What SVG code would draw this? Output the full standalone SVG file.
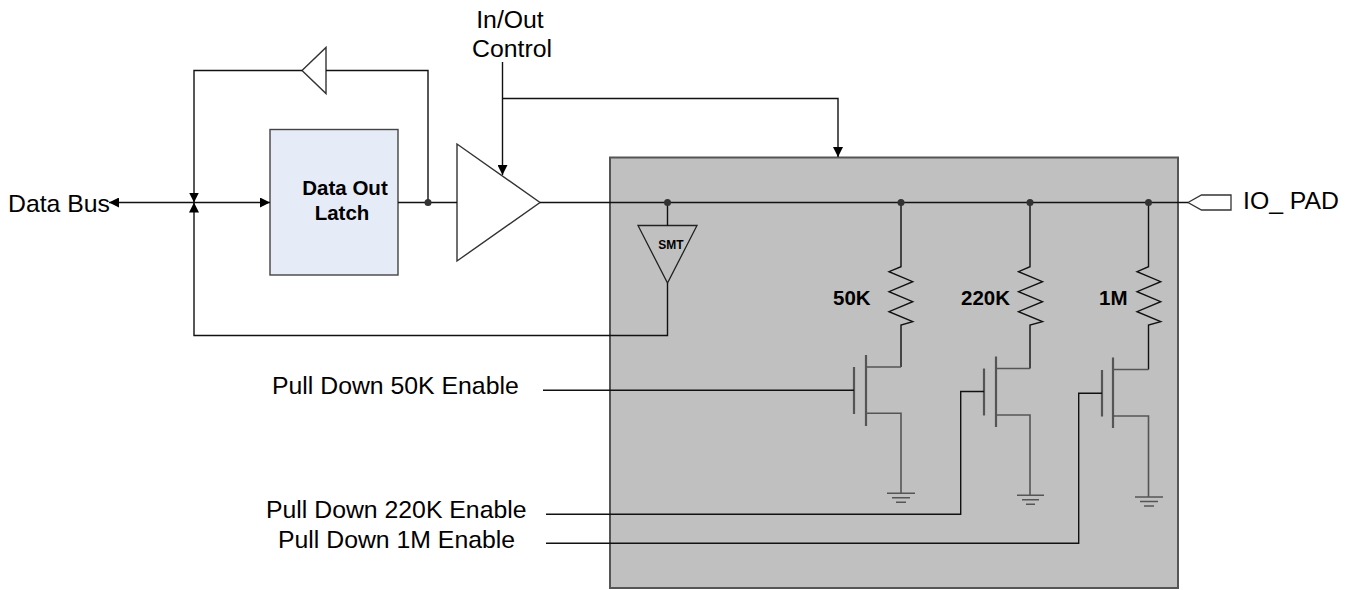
<svg xmlns="http://www.w3.org/2000/svg" width="1353" height="590" viewBox="0 0 1353 590">
<defs>
<marker id="arr" viewBox="0 0 10 10" refX="10" refY="5" markerWidth="10" markerHeight="10" markerUnits="userSpaceOnUse" orient="auto">
<path d="M0,0 L10,5 L0,10 Z" fill="#000"/>
</marker>
</defs>
<style>
.w{fill:none;stroke:#111;stroke-width:1.4}
.g{fill:none;stroke:#555;stroke-width:1.6}
.gb{fill:none;stroke:#555;stroke-width:2.2}
.lbl{font-family:"Liberation Sans",Arial,sans-serif;font-size:24.8px;fill:#000}
.b{font-family:"Liberation Sans",Arial,sans-serif;font-weight:bold;fill:#000}
.dot{fill:#333}
</style>
<rect width="1353" height="590" fill="#fff"/>

<g id="pad-block">
<rect x="610" y="157.5" width="568" height="430.5" fill="#c0c0c0" stroke="#555" stroke-width="2"/>
</g>

<g id="data-out-latch">
<rect x="270" y="129.5" width="128" height="145.5" fill="#e6ecf7" stroke="#444" stroke-width="1.4"/>
<text class="b" x="345" y="195" font-size="20.5" text-anchor="middle">Data Out</text>
<text class="b" x="342" y="220" font-size="20.5" text-anchor="middle">Latch</text>
</g>

<g id="feedback-buffer">
<polygon points="302,70.5 326,47.5 326,93.5" fill="#fff" stroke="#333" stroke-width="1.4"/>
</g>

<g id="output-buffer">
<polygon points="457,144 457,261 540,202.5" fill="#fff" stroke="#333" stroke-width="1.4"/>
</g>

<g id="smt-buffer">
<polygon points="638,225.5 697,225.5 667.5,283" fill="none" stroke="#222" stroke-width="1.3"/>
<text class="b" x="671" y="249" font-size="12" text-anchor="middle">SMT</text>
</g>

<g id="io-pad">
<polygon points="1188,202.5 1201.5,195 1231,195 1231,210 1201.5,210" fill="#fff" stroke="#333" stroke-width="1.3"/>
<text class="lbl" x="1243" y="209">IO_ PAD</text>
</g>

<g id="labels">
<text class="lbl" x="8" y="212">Data Bus</text>
<text class="lbl" x="510" y="28" text-anchor="middle">In/Out</text>
<text class="lbl" x="512" y="57" text-anchor="middle">Control</text>
<text class="lbl" x="272" y="394">Pull Down 50K Enable</text>
<text class="lbl" x="266" y="518">Pull Down 220K Enable</text>
<text class="lbl" x="278" y="548">Pull Down 1M Enable</text>
<text class="b" x="833" y="305" font-size="20.5">50K</text>
<text class="b" x="961" y="305" font-size="20.5">220K</text>
<text class="b" x="1099" y="305" font-size="20.5">1M</text>
</g>

<g id="resistors">
<path class="w" d="M901,202.5 V266.7 L889,271.7 L912.7,281.7 L889,291.7 L912.7,301.7 L889,311.7 L912.7,321.7 L901,325 V367"/>
<path class="w" d="M1030,202.5 V266.7 L1018.5,271.7 L1042.5,281.7 L1018.5,291.7 L1042.5,301.7 L1018.5,311.7 L1042.5,321.7 L1030,325 V368.5"/>
<path class="w" d="M1148.5,202.5 V266.7 L1137,271.7 L1160.7,281.7 L1137,291.7 L1160.7,301.7 L1137,311.7 L1160.7,321.7 L1148.5,325 V369.5"/>
</g>

<g id="transistor-50k">
<path class="g" d="M866,367 H901"/>
<path class="g" d="M866,413.3 H901 V493"/>
<path class="gb" d="M866,355 V426"/>
<path class="gb" d="M854,367 V414"/>
<path class="g" d="M887,493.3 H915 M892,497.8 H910 M896,502.2 H906"/>
</g>

<g id="transistor-220k">
<path class="g" d="M996,368.5 H1030"/>
<path class="g" d="M996,415 H1030 V495"/>
<path class="gb" d="M996,356.5 V427"/>
<path class="gb" d="M984,368.5 V415.5"/>
<path class="g" d="M1017,495.3 H1044 M1022,499.8 H1039 M1026,504.2 H1035"/>
</g>

<g id="transistor-1m">
<path class="g" d="M1113,369.5 H1148.5"/>
<path class="g" d="M1113,416 H1148.5 V497"/>
<path class="gb" d="M1113,357.5 V428"/>
<path class="gb" d="M1102,370 V416.5"/>
<path class="g" d="M1135,497 H1163 M1140,501.5 H1158 M1144,506 H1154"/>
</g>

<g id="connectors">
<line class="w" x1="194" y1="202.5" x2="109" y2="202.5" marker-end="url(#arr)"/>
<line class="w" x1="194" y1="202.5" x2="270" y2="202.5" marker-end="url(#arr)"/>
<polyline class="w" points="428,202.5 428,70.5 326,70.5"/>
<polyline class="w" points="302,70.5 194,70.5 194,202.5" marker-end="url(#arr)"/>
<polyline class="w" points="667.5,283 667.5,335.5 194,335.5 194,202.5" marker-end="url(#arr)"/>
<line class="w" x1="398" y1="202.5" x2="457" y2="202.5"/>
<line class="w" x1="540" y1="202.5" x2="1188" y2="202.5"/>
<line class="w" x1="667.5" y1="202.5" x2="667.5" y2="225.5"/>
<line class="w" x1="502.5" y1="62" x2="502.5" y2="175" marker-end="url(#arr)"/>
<polyline class="w" points="502.5,98.5 838,98.5 838,157" marker-end="url(#arr)"/>
<line class="w" x1="543" y1="390.3" x2="854" y2="390.3"/>
<polyline class="w" points="546,514.3 960.7,514.3 960.7,391.5 984,391.5"/>
<polyline class="w" points="546,543.3 1078.7,543.3 1078.7,393.3 1102,393.3"/>
<circle class="dot" cx="428" cy="202.5" r="3.5"/>
<circle class="dot" cx="667.5" cy="202.5" r="3.5"/>
<circle class="dot" cx="901" cy="202.5" r="3.5"/>
<circle class="dot" cx="1030" cy="202.5" r="3.5"/>
<circle class="dot" cx="1148.5" cy="202.5" r="3.5"/>
</g>
</svg>
